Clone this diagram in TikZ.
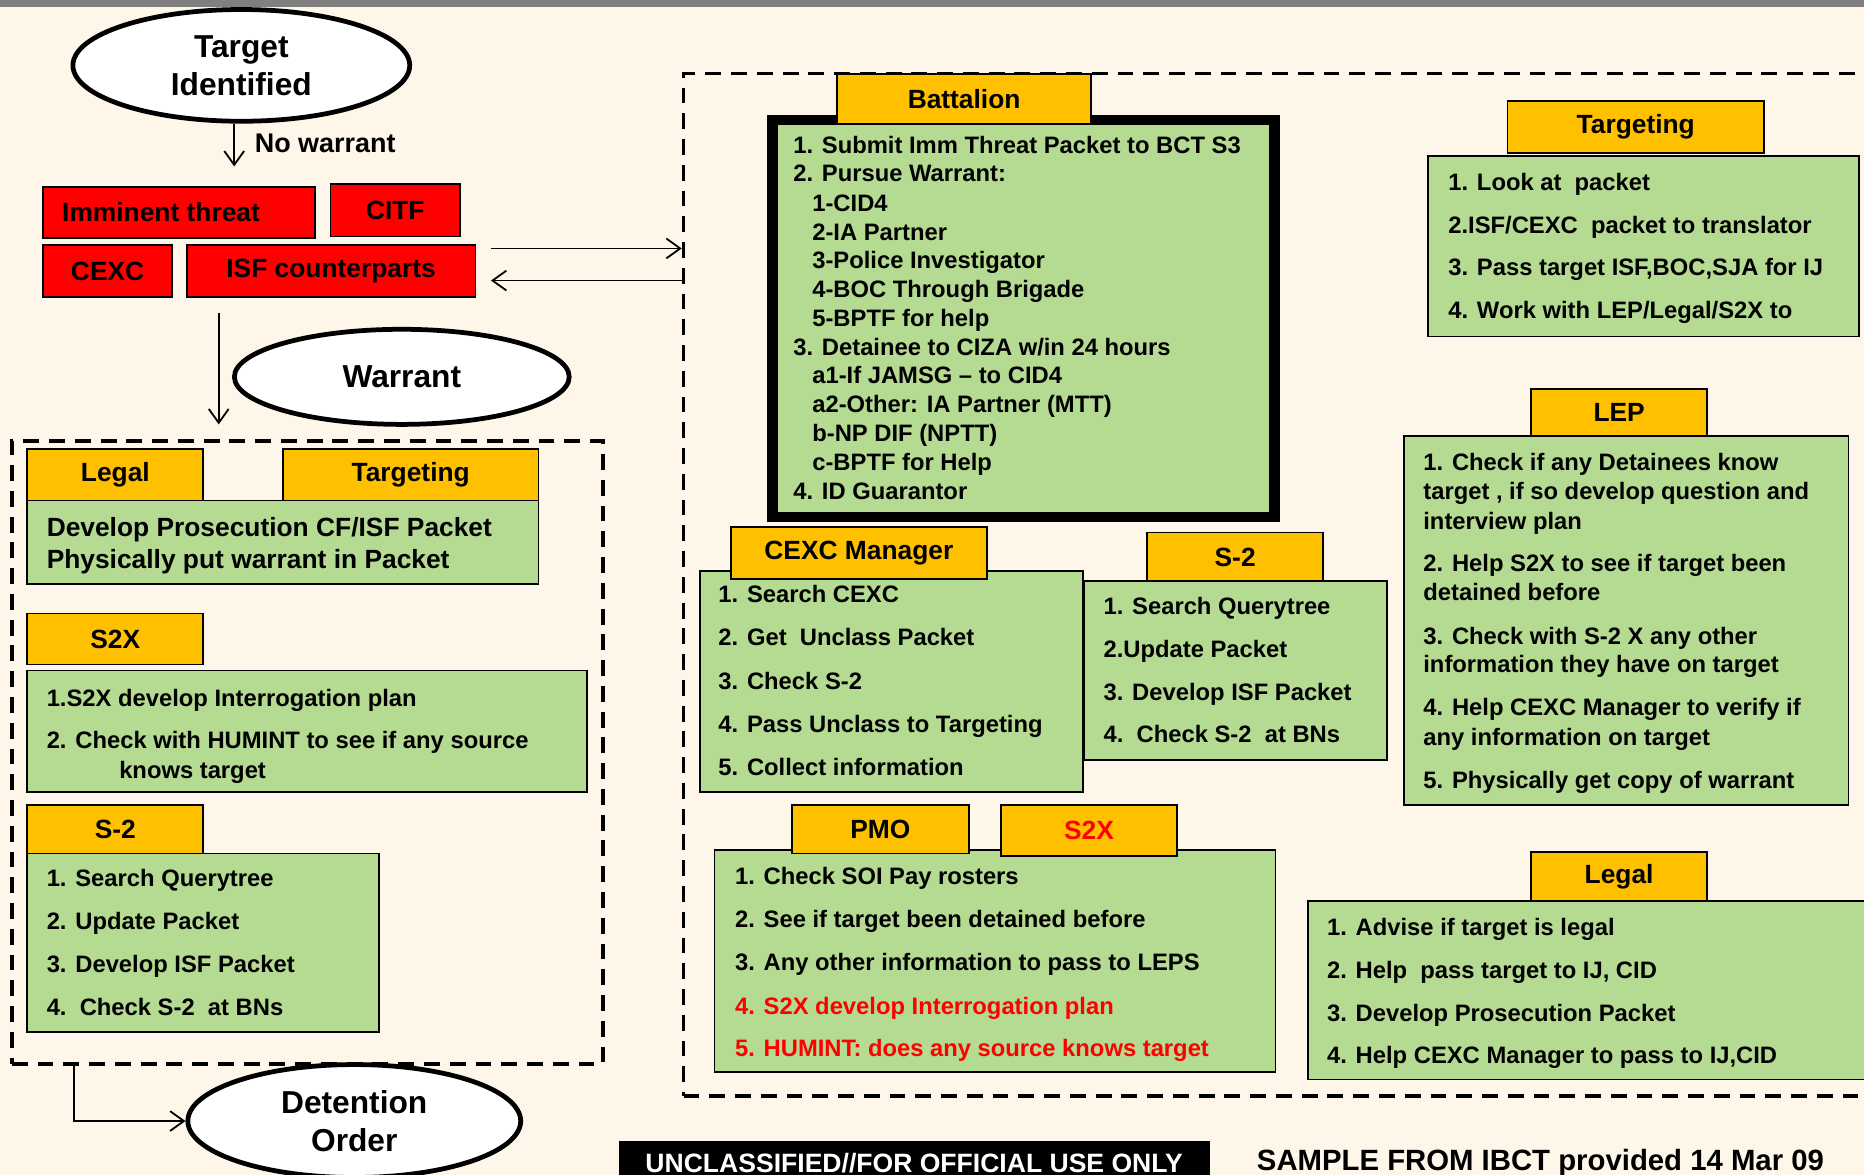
\documentclass[tikz,border=0pt]{standalone}
\usepackage{fontspec}
\setmainfont{Liberation Sans}
\usetikzlibrary{arrows.meta,fit,shapes.geometric}
\definecolor{bg}{RGB}{253,246,233}
\definecolor{gold}{RGB}{255,192,0}
\definecolor{lgreen}{RGB}{181,218,145}
\definecolor{redfill}{RGB}{255,0,0}
\definecolor{topgray}{RGB}{128,128,128}
\newcommand\fitbox[7]{\path (#3,#4) coordinate (#1-a) (#5,#6) coordinate (#1-b);
  \node[#2,fit=(#1-a)(#1-b)] (#1) {};
  \node[#2,draw=none,fill=none,anchor=center] (#1-t) at (#1.center) {#7};}
\begin{document}
\begin{tikzpicture}[x=0.6pt,y=-0.6pt,
  tab/.style={draw=black,fill=gold,line width=0.9pt,inner sep=0pt,font=\fontsize{13.3}{16}\selectfont\bfseries},
  gbox/.style={draw=black,fill=lgreen,line width=0.9pt,inner sep=0pt},
  rbox/.style={draw=black,fill=redfill,line width=0.9pt,inner sep=0pt,font=\fontsize{13.3}{16}\selectfont\bfseries},
  oval/.style={ellipse,draw=black,fill=white,line width=2.4pt,inner sep=0pt,align=center,font=\fontsize{16}{19.2}\selectfont\bfseries},
  lst/.style={anchor=base west,inner sep=0pt,font=\fontsize{12}{14}\selectfont\bfseries},
  big/.style={anchor=base west,inner sep=0pt,font=\fontsize{13.3}{16}\selectfont\bfseries},
  conn/.style={-{Straight Barb[length=7pt,width=10pt,line width=0.9pt]},line width=0.9pt},
  dbox/.style={draw=black,dash pattern=on 8pt off 5pt,line width=1.8pt,inner sep=0pt},
  bbox/.style={draw=black,fill=lgreen,line width=5.4pt,inner sep=0pt}]
\useasboundingbox (0,0) rectangle (1568,988.4);
\fill[bg] (0,0) rectangle (1568,988.4);
\clip (0,0) rectangle (1568,988.4);
\fill[topgray] (0,0) rectangle (1568,6);

% ---------- left column ----------
\node[oval,minimum width=170pt,minimum height=56.4pt] (ti) at (203,55) {Target\\Identified};
\coordinate (nwend) at (197,140);
\draw[conn] (ti.south -| nwend) -- (nwend);
\node[big,anchor=west,font=\fontsize{13.6}{16}\selectfont\bfseries] (nwl) at (214,121) {No warrant};

\fitbox{imm}{rbox}{36}{157}{265}{200}{}
\node[big] (immt) at (52,186) {Imminent threat};
\fitbox{citf}{rbox}{278}{155}{387}{199}{CITF}
\fitbox{cexc}{rbox}{36}{206}{145}{250}{CEXC}
\fitbox{isf}{rbox}{157}{206}{400}{250}{ISF counterparts}

\node[oval,minimum width=169pt,minimum height=48pt] (war) at (338,317) {Warrant};
\coordinate (da1) at (184,263);
\coordinate (da2) at (184,357);
\draw[conn] (da1) -- (da2);

\fitbox{lbox}{dbox}{10}{371}{507}{895}{}

\fitbox{lg1}{gbox}{23}{421}{453}{491}{}
\fitbox{lgt}{tab}{23}{378}{171}{421}{Legal}
\fitbox{tgt}{tab}{238}{378}{453}{421}{Targeting}
\node[big] (lg1a) at (39,451) {Develop Prosecution CF/ISF Packet};
\node[big] (lg1b) at (39,478) {Physically put warrant in Packet};

\fitbox{s2xg}{gbox}{23}{564}{494}{666}{}
\fitbox{s2xt}{tab}{23}{516}{171}{559}{S2X}
\node[lst] (s2xa) at (39,594) {1.S2X develop Interrogation plan};
\node[lst] (s2xb) at (39,630) {2. Check with HUMINT to see if any source};
\node[lst] (s2xc) at (100,655) {knows target};

\fitbox{ls2g}{gbox}{23}{718}{319}{868}{}
\fitbox{ls2t}{tab}{23}{677}{171}{718}{S-2}
\foreach \yy/\txt [count=\i] in {739/{1. Search Querytree},775/{2. Update Packet},811/{3. Develop ISF Packet},847/{4.\ \ Check S-2\ \ at BNs}}
  \node[lst] (ls2l\i) at (39,\yy+7) {\txt};

\node[oval,minimum width=168pt,minimum height=57pt] (det) at (298,943) {Detention\\Order};
\coordinate (dst) at (62,895);
\draw[conn] (dst) |- (det.west);

% ---------- right dashed region ----------
\fitbox{rbox}{dbox}{575}{62}{1580}{922}{}
\coordinate (ra1) at (413,209);
\coordinate (la1) at (413,236);
\draw[conn] (ra1) -- (ra1 -| rbox.west);
\draw[conn] (la1 -| rbox.west) -- (la1);

% Battalion
\fitbox{bat}{bbox}{650}{101}{1072}{435}{}
\fitbox{batt}{tab}{704}{62}{918}{104}{Battalion}
\foreach \xx/\yy/\txt [count=\i] in {
  667/122/{1. Submit Imm Threat Packet to BCT S3},
  667/146/{2. Pursue Warrant:},
  683/171/{1-CID4},
  683/195/{2-IA Partner},
  683/219/{3-Police Investigator},
  683/243/{4-BOC Through Brigade},
  683/268/{5-BPTF for help},
  667/292/{3. Detainee to CIZA w/in 24 hours},
  683/316/{a1-If JAMSG -- to CID4},
  683/340/{a2-Other: IA Partner (MTT)},
  683/364/{b-NP DIF (NPTT)},
  683/389/{c-BPTF for Help},
  667/413/{4. ID Guarantor}}
  \node[lst] (batl\i) at (\xx,\yy+7) {\txt};

% CEXC Manager
\fitbox{cmg}{gbox}{589}{480}{911}{666}{}
\fitbox{cmt}{tab}{615}{443}{830}{487}{CEXC Manager}
\foreach \yy/\txt [count=\i] in {500/{1. Search CEXC},536/{2. Get\ \ Unclass Packet},573/{3. Check S-2},609/{4. Pass Unclass to Targeting},645/{5. Collect information}}
  \node[lst] (cml\i) at (604,\yy+7) {\txt};

% middle S-2
\fitbox{ms2g}{gbox}{912}{489}{1167}{639}{}
\fitbox{ms2t}{tab}{965}{448}{1113}{489}{S-2}
\foreach \yy/\txt [count=\i] in {510/{1. Search Querytree},546/{2.Update Packet},582/{3. Develop ISF Packet},618/{4.\ \ Check S-2\ \ at BNs}}
  \node[lst] (ms2l\i) at (928,\yy+7) {\txt};

% PMO / S2X
\fitbox{pmog}{gbox}{601}{715}{1073}{902}{}
\fitbox{pmot}{tab}{666}{677}{815}{718}{PMO}
\fitbox{rs2xt}{tab,text=redfill}{842}{677}{990}{720}{S2X}
\foreach \yy/\txt [count=\i] in {737/{1. Check SOI Pay rosters},773/{2. See if target been detained before},809/{3. Any other information to pass to LEPS}}
  \node[lst] (pmol\i) at (618,\yy+7) {\txt};
\node[lst,text=redfill] (pmol4) at (618,853) {4. S2X develop Interrogation plan};
\node[lst,text=redfill] (pmol5) at (618,889) {5. HUMINT: does any source knows target};

% Targeting (right)
\fitbox{rtg}{gbox}{1201}{131}{1564}{283}{}
\fitbox{rtt}{tab}{1268}{85}{1484}{129}{Targeting}
\foreach \yy/\txt [count=\i] in {153/{1. Look at\ \ packet},189/{2.ISF/CEXC\ \ packet to translator},225/{3. Pass target ISF,BOC,SJA for IJ},261/{4. Work with LEP/Legal/S2X to}}
  \node[lst] (rtl\i) at (1218,\yy+7) {\txt};

% LEP
\fitbox{lepg}{gbox}{1181}{367}{1555}{677}{}
\fitbox{lept}{tab}{1288}{327}{1436}{367}{LEP}
\foreach \yy/\txt [count=\i] in {
  389/{1. Check if any Detainees know},
  413/{target , if so develop question and},
  438/{interview plan},
  474/{2. Help S2X to see if target been},
  498/{detained before},
  535/{3. Check with S-2 X any other},
  559/{information they have on target},
  595/{4. Help CEXC Manager to verify if},
  620/{any information on target},
  656/{5. Physically get copy of warrant}}
  \node[lst] (lepl\i) at (1197,\yy+7) {\txt};

% Legal (right)
\fitbox{rlg}{gbox}{1100}{758}{1580}{908}{}
\fitbox{rlt}{tab}{1288}{717}{1436}{758}{Legal}
\foreach \yy/\txt [count=\i] in {780/{1. Advise if target is legal},816/{2. Help\ \ pass target to IJ, CID},852/{3. Develop Prosecution Packet},888/{4. Help CEXC Manager to pass to IJ,CID}}
  \node[lst] (rlgl\i) at (1116,\yy+7) {\txt};

% footer
\fitbox{foot}{fill=black,inner sep=0pt}{521}{960}{1018}{1000}{}
\node[anchor=base,inner sep=0pt,text=white,font=\fontsize{13.4}{16}\selectfont\bfseries] (footl) at (769,986) {UNCLASSIFIED//FOR OFFICIAL USE ONLY};
\node[anchor=base west,inner sep=0pt,font=\fontsize{14.8}{17}\selectfont\bfseries] (sample) at (1057,985) {SAMPLE FROM IBCT provided 14 Mar 09};
\end{tikzpicture}
\end{document}
